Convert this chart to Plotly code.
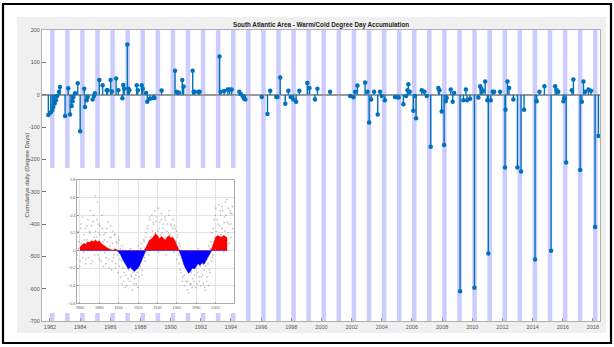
import plotly.graph_objects as go

# ---------------- main chart data ----------------
stem_years = [
    1981.89, 1982.05, 1982.15, 1982.22, 1982.31, 1982.40, 1982.48, 1982.60, 1982.66,
    1983.00, 1983.21, 1983.33, 1983.44, 1983.50, 1983.55, 1983.66, 1983.84,
    1984.00, 1984.27, 1984.32, 1984.43, 1984.50, 1984.83, 1984.92, 1984.98,
    1985.27, 1985.49, 1985.76, 1985.82, 1986.02, 1986.10, 1986.38, 1986.53,
    1986.80, 1986.86, 1986.92, 1987.13, 1987.20, 1987.26, 1987.75, 1987.82,
    1988.08, 1988.15, 1988.37, 1988.45, 1988.63, 1988.85, 1988.93, 1989.40,
    1990.29, 1990.40, 1990.48, 1990.55, 1990.77, 1990.86, 1991.46, 1991.52,
    1991.60, 1991.84, 1991.92, 1993.24, 1993.32, 1993.55, 1993.78, 1993.90,
    1994.04, 1994.55, 1994.65, 1994.77, 1994.86, 1994.95, 1996.04, 1996.42,
    1996.60, 1997.00, 1997.08, 1997.26, 1997.60, 1997.80, 1997.96, 1998.14,
    1998.32, 1998.53, 1999.06, 1999.20, 1999.57, 1999.73, 2000.57, 2001.90,
    2002.12, 2002.23, 2002.38, 2002.89, 2003.05, 2003.16, 2003.29, 2003.49,
    2003.73, 2003.88, 2004.00, 2004.20, 2004.87, 2005.03, 2005.12, 2005.43,
    2005.61, 2005.70, 2005.76, 2005.85, 2006.09, 2006.20, 2006.27, 2006.65,
    2006.82, 2006.98, 2007.24, 2007.75, 2007.82, 2007.97, 2008.13, 2008.24,
    2008.30, 2008.57, 2008.70, 2008.79, 2009.19, 2009.41, 2009.57, 2009.65,
    2009.85, 2010.14, 2010.40, 2010.52, 2010.60, 2010.70, 2010.85, 2011.00,
    2011.06, 2011.22, 2011.35, 2011.45, 2011.84, 2012.17, 2012.20, 2012.33,
    2012.44, 2012.72, 2012.99, 2013.23, 2013.43, 2014.16, 2014.27, 2014.45,
    2014.78, 2015.22, 2015.49, 2015.60, 2015.70, 2016.04, 2016.10, 2016.22,
    2016.60, 2016.70, 2017.15, 2017.26, 2017.37, 2017.48, 2017.70, 2017.87,
    2018.14, 2018.36,
]
stem_values = [
    -63, -55, -48, -38, -27, -17, -4, 9, 24,
    -66, 20, -61, -35, -20, -7, 4, 35,
    -113, 18, -38, -17, -7, -15, -4, 4,
    45, 29, 14, 14, 45, 10, 50, 14,
    -11, 30, 18, 155, 18, 14, 29, 14,
    29, 18, 5, -22, -13, -10, -10, 13,
    74, 9, 6, 6, 45, 25, 74, 9,
    9, 9, 9, 118, 9, 11, 16, 16,
    16, 9, 2, -4, -12, -15, -7, -60,
    12, -7, -7, 53, -28, 12, -7, -15,
    -22, 12, 36, 21, -15, 18, 9, -4,
    -8, 9, 28, 38, 9, -86, -15, 9,
    -61, 9, -4, -17, -7, -8, -9, -30,
    -4, 14, 32, 9, -50, -4, -73, 14,
    9, -4, -161, 21, 14, -52, -156, -20,
    -10, 16, -22, 5, -608, -17, 16, -17,
    -13, -597, -9, 26, 18, 12, 41, -17,
    -491, -17, 9, 9, 9, -225, -47, 41,
    21, -15, -225, -238, -47, -510, -20, 9,
    26, -483, 26, 14, 9, -20, -12, -210,
    14, 47, -233, -22, 41, 9, 16, 12,
    -409, -128,
]
stripe_years = list(range(1982, 2019))
x_tick_years = list(range(1982, 2019, 2))
y_tick_values = [200, 100, 0, -100, -200, -300, -400, -500, -600, -700]

# ---------------- inset data (AMO-like index) ----------------
amo_years = list(range(1860, 2013, 2))
amo_smooth = [
    0.04, 0.06, 0.08, 0.07, 0.10, 0.09, 0.11, 0.10, 0.12, 0.10,
    0.11, 0.08, 0.06, 0.05, 0.03, 0.02, 0.01, 0.00, 0.02, 0.01,
    -0.02, -0.05, -0.10, -0.14, -0.18, -0.21, -0.19, -0.22, -0.24, -0.22,
    -0.20, -0.16, -0.10, -0.04, 0.03, 0.08, 0.12, 0.13, 0.16, 0.19,
    0.17, 0.13, 0.16, 0.14, 0.12, 0.15, 0.17, 0.14, 0.15, 0.11,
    0.05, 0.01, -0.05, -0.12, -0.18, -0.22, -0.26, -0.24, -0.20, -0.21,
    -0.18, -0.15, -0.17, -0.14, -0.16, -0.12, -0.08, -0.04, 0.02, 0.10,
    0.15, 0.17, 0.16, 0.15, 0.17, 0.16, 0.14,
]
scatter_years = list(range(1856, 2018))
scatter_a = [
    0.15, -0.05, 0.22, 0.10, -0.12, 0.30, 0.05, -0.08, 0.18, 0.25,
    -0.10, 0.12, 0.35, 0.02, 0.20, -0.15, 0.28, 0.08, 0.40, -0.05,
    0.22, 0.15, 0.55, 0.30, -0.10, 0.18, 0.05, 0.25, -0.18, 0.12,
    0.20, -0.08, 0.10, 0.32, -0.20, 0.05, 0.15, -0.12, 0.22, -0.05,
    0.18, -0.15, 0.08, -0.25, 0.12, -0.10, -0.30, 0.05, -0.20, -0.35,
    -0.05, -0.28, -0.40, -0.12, -0.22, -0.35, 0.02, -0.30, -0.45, -0.15,
    -0.32, -0.10, -0.38, -0.25, 0.05, -0.30, -0.18, 0.08, -0.22, -0.05,
    0.10, -0.12, 0.20, 0.05, 0.28, -0.05, 0.35, 0.15, 0.40, 0.02,
    0.30, 0.45, 0.10, 0.38, 0.22, -0.02, 0.32, 0.18, 0.42, 0.05,
    0.25, 0.12, 0.35, -0.05, 0.30, 0.20, 0.45, 0.08, 0.28, 0.15,
    0.35, -0.02, 0.25, 0.10, -0.10, 0.18, -0.15, 0.05, -0.25, -0.08,
    -0.30, -0.12, -0.40, -0.20, -0.05, -0.35, -0.48, -0.15, -0.38, -0.10,
    -0.32, -0.05, -0.28, -0.42, -0.08, -0.25, 0.02, -0.35, -0.18, -0.30,
    -0.05, -0.38, -0.22, -0.45, -0.10, -0.30, -0.15, 0.05, -0.25, 0.10,
    0.20, -0.05, 0.35, 0.15, 0.48, 0.10, 0.30, 0.52, 0.05, 0.40,
    0.25, 0.45, -0.02, 0.38, 0.55, 0.15, 0.32, 0.48, 0.08, 0.42,
    0.30, 0.50,
]
scatter_b = [
    -0.10, 0.20, 0.02, -0.18, 0.25, 0.08, 0.38, -0.02, 0.12, -0.15,
    0.28, 0.05, -0.08, 0.22, 0.45, 0.10, -0.12, 0.33, 0.15, 0.62,
    0.05, 0.35, -0.05, 0.20, 0.28, -0.12, 0.40, 0.10, 0.18, -0.02,
    -0.15, 0.25, 0.02, -0.10, 0.15, 0.28, -0.22, 0.08, -0.08, 0.18,
    -0.20, 0.10, -0.05, 0.15, -0.18, 0.02, -0.12, -0.38, -0.08, -0.25,
    -0.42, -0.15, -0.20, -0.32, 0.00, -0.18, -0.28, -0.10, -0.25, -0.38,
    -0.12, -0.28, -0.05, -0.42, -0.20, -0.12, 0.02, -0.28, -0.02, 0.12,
    -0.08, 0.15, -0.02, 0.25, 0.10, 0.38, 0.12, 0.05, 0.22, 0.32,
    0.05, 0.20, 0.33, 0.12, 0.48, 0.25, 0.10, 0.35, 0.20, 0.30,
    0.08, 0.38, 0.15, 0.22, 0.05, 0.40, 0.18, 0.30, 0.02, 0.25,
    0.12, 0.28, 0.02, 0.22, 0.15, -0.05, 0.08, -0.22, 0.00, -0.35,
    -0.15, -0.28, -0.05, -0.35, -0.45, -0.22, -0.12, -0.38, -0.25, -0.42,
    -0.15, -0.35, -0.10, -0.20, -0.38, -0.02, -0.30, -0.12, -0.40, -0.05,
    -0.28, -0.12, -0.42, -0.18, -0.35, -0.05, -0.40, -0.22, 0.02, -0.12,
    -0.08, 0.25, 0.10, 0.40, 0.22, 0.35, 0.12, 0.28, 0.45, 0.18,
    0.50, 0.10, 0.32, 0.22, 0.40, 0.58, 0.20, 0.30, 0.45, 0.15,
    0.42, 0.25,
]
inset_x_ticks = list(range(1860, 2001, 20))
inset_y_ticks = [-0.6, -0.4, -0.2, 0, 0.2, 0.4, 0.6, 0.8]

TITLE = "South Atlantic Area - Warm/Cold Degree Day Accumulation"
YLABEL = "Cumulative daily (Degree Days)"

# ---------------- geometry ----------------
W, H = 614, 347
PL, PR, PT, PB = 42, 600, 30, 321
X0, X1 = 1981.47, 2018.465
Y0, Y1 = -700, 200
FONT = "Liberation Sans, Arial, sans-serif"
BLUE = "#0072BD"


def px_x(px):
    return (px - PL) / (PR - PL)


def px_y(py):
    return (PB - py) / (PB - PT)


def dx(px):
    return X0 + (px - PL) / (PR - PL) * (X1 - X0)


def dy(py):
    return Y1 - (py - PT) / (PB - PT) * (Y1 - Y0)


fig = go.Figure()

# stems
sx, sy = [], []
for xv, yv in zip(stem_years, stem_values):
    sx += [xv, xv, None]
    sy += [0, yv, None]
fig.add_trace(go.Scatter(x=sx, y=sy, mode="lines", line=dict(color=BLUE, width=1.4),
                         hoverinfo="skip", showlegend=False))
fig.add_trace(go.Scatter(x=stem_years, y=stem_values, mode="markers",
                         marker=dict(color=BLUE, size=4.5), showlegend=False))

# inset traces
pos = [max(v, 0) for v in amo_smooth]
neg = [min(v, 0) for v in amo_smooth]
fig.add_trace(go.Scatter(x=[y + 0.25 for y in scatter_years], y=scatter_a, mode="markers",
                         marker=dict(color="rgba(120,120,120,0.45)", size=1.7),
                         xaxis="x2", yaxis="y2", showlegend=False))
fig.add_trace(go.Scatter(x=[y + 0.75 for y in scatter_years], y=scatter_b, mode="markers",
                         marker=dict(color="rgba(120,120,120,0.45)", size=1.7),
                         xaxis="x2", yaxis="y2", showlegend=False))
fig.add_trace(go.Scatter(x=amo_years, y=pos, mode="lines", fill="tozeroy",
                         fillcolor="#ff0000", line=dict(color="#ff0000", width=0.5),
                         xaxis="x2", yaxis="y2", showlegend=False))
fig.add_trace(go.Scatter(x=amo_years, y=neg, mode="lines", fill="tozeroy",
                         fillcolor="#0000ff", line=dict(color="#0000ff", width=0.5),
                         xaxis="x2", yaxis="y2", showlegend=False))

shapes = []
# grey panel
shapes.append(dict(type="rect", xref="paper", yref="paper",
                   x0=px_x(17), x1=px_x(606), y0=px_y(333), y1=px_y(17),
                   fillcolor="#f0f0f0", line=dict(width=0), layer="below"))
# white plot area (in data coords so it sits above the panel)
shapes.append(dict(type="rect", xref="x", yref="y", x0=X0, x1=X1, y0=Y0, y1=Y1,
                   fillcolor="white", line=dict(width=0), layer="below"))
# winter stripes
for yr in stripe_years:
    shapes.append(dict(type="rect", xref="x", yref="y", x0=yr, x1=yr + 0.3,
                       y0=Y0, y1=Y1, fillcolor="#ccccff", line=dict(width=0),
                       layer="below"))
# inset white box
shapes.append(dict(type="rect", xref="x", yref="y", x0=dx(42.5), x1=dx(240),
                   y0=dy(313), y1=dy(168), fillcolor="white",
                   line=dict(width=0), layer="below"))
# outer black frame
shapes.append(dict(type="rect", xref="paper", yref="paper",
                   x0=px_x(3), x1=px_x(611), y0=px_y(343), y1=px_y(4),
                   line=dict(color="black", width=2.2), layer="above"))

annotations = [
    dict(text="<b>" + TITLE + "</b>", xref="paper", yref="paper", x=0.5, y=px_y(25),
         xanchor="center", yanchor="middle", showarrow=False,
         font=dict(family=FONT, size=6.3, color="#222")),
    dict(text=YLABEL, xref="paper", yref="paper", x=px_x(26), y=0.5, textangle=-90,
         xanchor="center", yanchor="middle", showarrow=False,
         font=dict(family=FONT, size=6, color="#444")),
]

fig.update_layout(
    width=W, height=H, autosize=False,
    margin=dict(l=PL, r=W - PR, t=PT, b=H - PB, pad=0),
    paper_bgcolor="white", plot_bgcolor="rgba(0,0,0,0)",
    shapes=shapes, annotations=annotations, showlegend=False,
    xaxis=dict(range=[X0, X1], tickvals=x_tick_years, ticktext=[str(v) for v in x_tick_years],
               ticks="inside", ticklen=3, tickcolor="#999", showgrid=False, zeroline=False,
               showline=True, linecolor="#b0b0b0", linewidth=1, mirror=True,
               tickfont=dict(family=FONT, size=5.5, color="#555")),
    yaxis=dict(range=[Y0, Y1], tickvals=y_tick_values, ticktext=[str(v) for v in y_tick_values],
               ticks="inside", ticklen=4, tickcolor="#777", showgrid=False,
               zeroline=True, zerolinecolor="#9a9a9a", zerolinewidth=1.5,
               showline=True, linecolor="#b0b0b0", linewidth=1, mirror=True,
               tickfont=dict(family=FONT, size=5.5, color="#555")),
    xaxis2=dict(domain=[px_x(77), px_x(234)], anchor="y2", range=[1857, 2019],
                tickvals=inset_x_ticks, ticks="inside", ticklen=2, tickcolor="#999",
                showgrid=True, gridcolor="#e4e4e4", gridwidth=0.5, zeroline=False,
                showline=True, linecolor="#aaa", linewidth=0.6, mirror=True,
                tickfont=dict(family=FONT, size=3.8, color="#666")),
    yaxis2=dict(domain=[px_y(303.3), px_y(180)], anchor="x2", range=[-0.6, 0.8],
                tickvals=inset_y_ticks, ticks="inside", ticklen=2, tickcolor="#999",
                showgrid=True, gridcolor="#e4e4e4", gridwidth=0.5, zeroline=False,
                showline=True, linecolor="#aaa", linewidth=0.6, mirror=True,
                tickfont=dict(family=FONT, size=3.8, color="#666")),
)

fig.write_html("out.html", config={"displayModeBar": False},
               post_script="document.body.style.margin='0';")
